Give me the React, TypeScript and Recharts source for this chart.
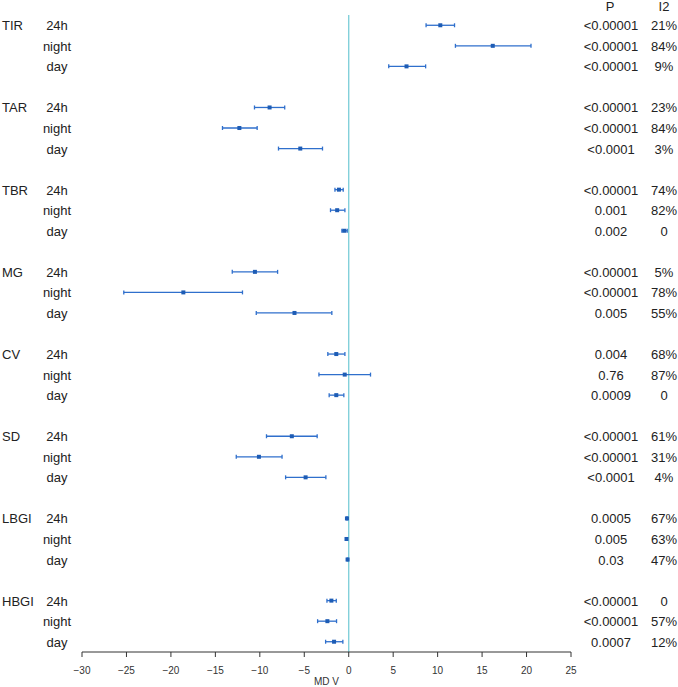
import React from 'react';
import { ScatterChart, Scatter, XAxis, YAxis, ErrorBar, ReferenceLine } from 'recharts';

const groups = ['TIR', 'TAR', 'TBR', 'MG', 'CV', 'SD', 'LBGI', 'HBGI'];
const periods = ['24h', 'night', 'day'];
const meanDiff = [10.3, 16.2, 6.5, -8.9, -12.3, -5.45, -1.1, -1.3, -0.5, -10.55, -18.6, -6.1, -1.4, -0.45, -1.4, -6.4, -10.1, -4.85, -0.2, -0.25, -0.13, -1.95, -2.4, -1.65];
const ciLower = [8.7, 12.0, 4.5, -10.6, -14.2, -7.9, -1.55, -2.05, -0.77, -13.1, -25.3, -10.4, -2.35, -3.35, -2.2, -9.25, -12.65, -7.1, -0.25, -0.3, -0.18, -2.45, -3.5, -2.6];
const ciUpper = [11.9, 20.5, 8.65, -7.2, -10.3, -2.95, -0.62, -0.43, -0.17, -8.0, -11.95, -1.9, -0.43, 2.45, -0.55, -3.55, -7.5, -2.57, -0.15, -0.2, -0.08, -1.4, -1.37, -0.66];
const pText = ['<0.00001', '<0.00001', '<0.00001', '<0.00001', '<0.00001', '<0.0001', '<0.00001', '0.001', '0.002', '<0.00001', '<0.00001', '0.005', '0.004', '0.76', '0.0009', '<0.00001', '<0.00001', '<0.0001', '0.0005', '0.005', '0.03', '<0.00001', '<0.00001', '0.0007'];
const i2Text = ['21%', '84%', '9%', '23%', '84%', '3%', '74%', '82%', '0', '5%', '78%', '55%', '68%', '87%', '0', '61%', '31%', '4%', '67%', '63%', '47%', '0', '57%', '12%'];
const xTicks = [-30, -25, -20, -15, -10, -5, 0, 5, 10, 15, 20, 25];

const data = meanDiff.map((m, i) => {
  const g = Math.floor(i / 3);
  const r = i % 3;
  return {
    row: g * 4 + r,
    md: m,
    err: [m - ciLower[i], ciUpper[i] - m],
    group: r === 0 ? groups[g] : '',
    period: periods[r],
    p: pText[i],
    i2: i2Text[i],
  };
});
const rowTicks = data.map((d) => d.row);

const FONT = '"Liberation Sans", Arial, sans-serif';
const TXT = '#222';

const RowTick = (props: any) => {
  const { y, payload } = props;
  const d = data.find((e) => e.row === payload.value);
  if (!d) return null;
  const isFirst = d.row === 0;
  return (
    <g fontFamily={FONT} fontSize={13} fill={TXT}>
      {d.group && (
        <text x={2} y={y} dy={5} textAnchor="start">{d.group}</text>
      )}
      <text x={57} y={y} dy={5} textAnchor="middle">{d.period}</text>
      <text x={611} y={y} dy={5} textAnchor="middle">{d.p}</text>
      <text x={664} y={y} dy={5} textAnchor="middle">{d.i2}</text>
      {isFirst && (
        <>
          <text x={610} y={y} dy={-14} textAnchor="middle">P</text>
          <text x={664} y={y} dy={-14} textAnchor="middle">I2</text>
        </>
      )}
    </g>
  );
};

const SquareDot = (props: any) => {
  const { cx, cy } = props;
  return <rect x={cx - 2} y={cy - 2} width={4} height={4} fill="#1d5cb5" />;
};

const fmt = (v: number) => (v < 0 ? '\u2212' + Math.abs(v) : String(v));

export default function App() {
  return (
    <div style={{ position: 'absolute', left: 0, top: 0, width: 678, height: 687, background: '#fff' }}>
      <ScatterChart width={678} height={687} margin={{ top: 15, right: 107, bottom: 0, left: 0 }}>
        <XAxis
          type="number"
          dataKey="md"
          domain={[-30, 25]}
          ticks={xTicks}
          allowDataOverflow
          tickFormatter={fmt}
          height={35}
          stroke="#333"
          tickSize={5}
          tickMargin={10}
          tick={{ fontSize: 10, fill: '#333', fontFamily: FONT }}
          label={{ value: 'MD V', position: 'insideBottom', offset: 2, fontSize: 10, fill: '#333', fontFamily: FONT }}
        />
        <YAxis
          type="number"
          dataKey="row"
          domain={[-0.5, 30.5]}
          reversed
          width={82}
          ticks={rowTicks}
          interval={0}
          axisLine={false}
          tickLine={false}
          tick={<RowTick />}
        />
        <ReferenceLine x={0} stroke="#79cdd8" strokeWidth={1.3} />
        <Scatter data={data} isAnimationActive={false} shape={<SquareDot />}>
          <ErrorBar dataKey="err" direction="x" width={2} stroke="#2f6fcc" strokeWidth={1.3} />
        </Scatter>
      </ScatterChart>
    </div>
  );
}
